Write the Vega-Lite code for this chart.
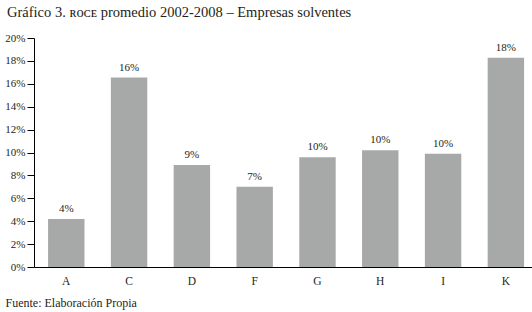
{
  "$schema": "https://vega.github.io/schema/vega-lite/v6.json",
  "autosize": "none",
  "width": 498,
  "height": 229,
  "padding": {"left": 34, "top": 38, "right": 0, "bottom": 45},
  "background": "white",
  "title": {
    "text": "Gráfico 3. ʀᴏᴄᴇ promedio 2002-2008 – Empresas solventes",
    "anchor": "start",
    "frame": "group",
    "font": "Liberation Serif",
    "fontSize": 14.5,
    "fontWeight": "normal",
    "color": "#231f20",
    "dx": -27,
    "offset": 12
  },
  "config": {
    "view": {"stroke": null},
    "font": "Liberation Serif"
  },
  "data": {
    "values": [
      {"sector": "A", "roce": 0.0419, "label": "4%"},
      {"sector": "C", "roce": 0.1655, "label": "16%"},
      {"sector": "D", "roce": 0.089, "label": "9%"},
      {"sector": "F", "roce": 0.070, "label": "7%"},
      {"sector": "G", "roce": 0.0958, "label": "10%"},
      {"sector": "H", "roce": 0.1019, "label": "10%"},
      {"sector": "I", "roce": 0.099, "label": "10%"},
      {"sector": "K", "roce": 0.1828, "label": "18%"}
    ]
  },
  "encoding": {
    "x": {
      "field": "sector",
      "type": "nominal",
      "sort": null,
      "scale": {"paddingInner": 0.42, "paddingOuter": 0.175, "align": 0.64},
      "axis": {
        "title": "Fuente: Elaboración Propia",
        "titleFont": "Liberation Serif",
        "titleFontSize": 12,
        "titleFontWeight": "normal",
        "titleColor": "#231f20",
        "titleAnchor": "start",
        "titleAlign": "left",
        "titleBaseline": "alphabetic",
        "titleX": -29,
        "titleY": 39,
        "labelAngle": 0,
        "labelFont": "Liberation Serif",
        "labelFontSize": 11.5,
        "labelColor": "#231f20",
        "labelPadding": 8,
        "ticks": false,
        "domainColor": "#000000",
        "domainWidth": 1
      }
    },
    "y": {
      "field": "roce",
      "type": "quantitative",
      "scale": {"domain": [0, 0.2], "nice": false},
      "axis": {
        "title": null,
        "values": [0, 0.02, 0.04, 0.06, 0.08, 0.1, 0.12, 0.14, 0.16, 0.18, 0.2],
        "format": ".0%",
        "grid": false,
        "labelFont": "Liberation Serif",
        "labelFontSize": 11,
        "labelColor": "#231f20",
        "labelPadding": 2,
        "tickSize": 7,
        "tickColor": "#000000",
        "domainColor": "#000000"
      }
    }
  },
  "layer": [
    {"mark": {"type": "bar", "color": "#a7a9a9"}},
    {
      "mark": {"type": "text", "baseline": "alphabetic", "dy": -7, "font": "Liberation Serif", "fontSize": 11, "color": "#231f20"},
      "encoding": {"text": {"field": "label"}}
    }
  ]
}
